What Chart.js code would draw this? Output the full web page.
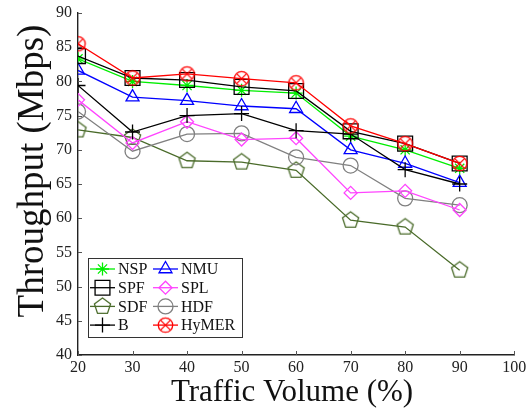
<!DOCTYPE html>
<html>
<head>
<meta charset="utf-8">
<script src="https://cdn.jsdelivr.net/npm/chart.js@4.4.1/dist/chart.umd.min.js"></script>
<style>
  html, body { margin: 0; padding: 0; background: #fff; }
  #c { display: block; }
</style>
</head>
<body>
<canvas id="c" width="526" height="417"></canvas>
<script>
// Throughput (Mbps) versus traffic volume (%) for each routing scheme
const trafficVolume = [20, 30, 40, 50, 60, 70, 80, 90];
const xTickValues = [20, 30, 40, 50, 60, 70, 80, 90, 100];
const yTickValues = [40, 45, 50, 55, 60, 65, 70, 75, 80, 85, 90];

const nspValues   = [83.3, 80.0, 79.4, 78.7, 78.3, 72.0, 70.0, 67.3];
const nmuValues   = [81.6, 77.7, 77.2, 76.4, 76.0, 70.0, 68.0, 65.2];
const spfValues   = [83.7, 80.5, 80.2, 79.2, 78.6, 72.7, 70.9, 68.0];
const splValues   = [77.3, 71.0, 74.1, 71.5, 71.7, 63.7, 64.0, 61.2];
const sdfValues   = [72.9, 71.8, 68.4, 68.2, 67.0, 59.7, 58.7, 52.4];
const hdfValues   = [75.6, 69.8, 72.3, 72.4, 68.9, 67.7, 62.9, 61.9];
const bValues     = [79.4, 72.6, 75.0, 75.3, 72.8, 72.3, 67.1, 65.0];
const hymerValues = [85.5, 80.5, 81.1, 80.4, 79.8, 73.5, 70.9, 68.0];

const SERIF = '"Liberation Serif", "DejaVu Serif", serif';

// Marker shapes Chart.js does not provide: open pentagon and circle with an X
function pentagonMarker(color, r, lw) {
  const s = Math.ceil(2 * r + 4);
  const cv = document.createElement('canvas');
  cv.width = s; cv.height = s;
  const g = cv.getContext('2d');
  g.strokeStyle = color; g.lineWidth = lw;
  g.beginPath();
  for (let k = 0; k < 5; k++) {
    const a = -Math.PI / 2 + k * 2 * Math.PI / 5;
    const px = s / 2 + r * Math.cos(a), py = s / 2 + r * Math.sin(a);
    k ? g.lineTo(px, py) : g.moveTo(px, py);
  }
  g.closePath();
  g.stroke();
  return cv;
}
function crossedCircleMarker(color, r, lw) {
  const s = Math.ceil(2 * r + 4);
  const cv = document.createElement('canvas');
  cv.width = s; cv.height = s;
  const g = cv.getContext('2d');
  g.strokeStyle = color; g.lineWidth = lw;
  const c = s / 2, d = r * Math.SQRT1_2;
  g.beginPath(); g.arc(c, c, r, 0, 2 * Math.PI); g.stroke();
  g.beginPath();
  g.moveTo(c - d, c - d); g.lineTo(c + d, c + d);
  g.moveTo(c + d, c - d); g.lineTo(c - d, c + d);
  g.stroke();
  return cv;
}

function series(label, values, color, style, radius, order) {
  return {
    label, order,
    data: trafficVolume.map((x, i) => ({ x, y: values[i] })),
    borderColor: color,
    borderWidth: 1.3,
    pointStyle: style,
    pointRadius: radius,
    pointBorderColor: color,
    pointBackgroundColor: 'rgba(0,0,0,0)',
    pointBorderWidth: 1.3,
    tension: 0,
    fill: false
  };
}

const datasets = [
  series('NSP',   nspValues,   '#00ee00', 'star',     6.5, 5),
  series('NMU',   nmuValues,   '#0000ff', 'triangle', 7.5, 4),
  series('SPF',   spfValues,   '#000000', 'rect',     10.5, 2),
  series('SPL',   splValues,   '#ff44ff', 'rectRot',  6.5, 6),
  series('SDF',   sdfValues,   '#4a6b2a', pentagonMarker('#4a6b2a', 8.5, 1.3), 8.5, 7),
  series('HDF',   hdfValues,   '#808080', 'circle',   7.5, 6),
  series('B',     bValues,     '#000000', 'cross',    7.5, 3),
  series('HyMER', hymerValues, '#ff0000', crossedCircleMarker('#ff0000', 7.2, 1.3), 7.2, 1)
];

// Short tick marks pointing into the plot area
const innerTicks = {
  id: 'innerTicks',
  afterDraw(chart) {
    const { ctx, chartArea: a, scales: { x, y } } = chart;
    ctx.save();
    ctx.strokeStyle = '#555';
    ctx.lineWidth = 1;
    ctx.beginPath();
    xTickValues.forEach(v => {
      const px = Math.round(x.getPixelForValue(v)) + 0.5;
      ctx.moveTo(px, a.bottom); ctx.lineTo(px, a.bottom - 4);
    });
    yTickValues.forEach(v => {
      const py = Math.round(y.getPixelForValue(v)) + 0.5;
      ctx.moveTo(a.left, py); ctx.lineTo(a.left + 4, py);
    });
    ctx.stroke();
    ctx.restore();
  }
};

// Axis titles
const axisTitles = {
  id: 'axisTitles',
  afterDraw(chart) {
    const ctx = chart.ctx;
    ctx.save();
    ctx.fillStyle = '#111';
    ctx.textAlign = 'center';
    ctx.textBaseline = 'middle';
    ctx.font = '31px ' + SERIF;
    ctx.fillText('Traffic Volume (%)', 292, 393);
    ctx.translate(33, 171);
    ctx.rotate(-Math.PI / 2);
    ctx.font = '37px ' + SERIF;
    ctx.fillText('Throughput (Mbps)', 0, 0);
    ctx.restore();
  }
};

// Boxed two-column legend in the lower-left corner of the plot
const boxLegend = {
  id: 'boxLegend',
  afterDraw(chart) {
    const ctx = chart.ctx;
    ctx.save();
    ctx.fillStyle = '#fff';
    ctx.fillRect(88.5, 258.5, 154, 79);
    ctx.strokeStyle = '#333';
    ctx.lineWidth = 1;
    ctx.strokeRect(88.5, 258.5, 154, 79);
    chart.data.datasets.forEach((ds, i) => {
      const col = i % 2, row = Math.floor(i / 2);
      const x0 = col ? 153 : 90;
      const cy = 269 + row * 18.7;
      ctx.strokeStyle = ds.borderColor;
      ctx.lineWidth = ds.borderWidth;
      ctx.beginPath(); ctx.moveTo(x0, cy); ctx.lineTo(x0 + 25, cy); ctx.stroke();
      ctx.fillStyle = 'rgba(0,0,0,0)';
      ctx.lineWidth = ds.pointBorderWidth;
      Chart.helpers.drawPoint(ctx, {
        pointStyle: ds.pointStyle, radius: ds.pointRadius,
        borderWidth: ds.pointBorderWidth, rotation: 0
      }, x0 + 12.5, cy);
      ctx.fillStyle = '#111';
      ctx.font = '16px ' + SERIF;
      ctx.textAlign = 'left';
      ctx.textBaseline = 'middle';
      ctx.fillText(ds.label, x0 + 28, cy + 1);
    });
    ctx.restore();
  }
};

new Chart(document.getElementById('c'), {
  type: 'line',
  data: { datasets },
  options: {
    responsive: false,
    animation: false,
    events: [],
    devicePixelRatio: 1,
    layout: { padding: { top: 13, right: 10, left: 0, bottom: 0 } },
    plugins: { legend: { display: false }, tooltip: { enabled: false } },
    scales: {
      x: {
        type: 'linear', min: 20, max: 100,
        afterBuildTicks(s) { s.ticks = xTickValues.map(v => ({ value: v })); },
        afterFit(s) { s.height = 62; s.paddingLeft = 0; s.paddingRight = 0; },
        ticks: { font: { family: SERIF, size: 16 }, color: '#222', padding: 3, maxRotation: 0, autoSkip: false },
        grid: { display: true, drawOnChartArea: false, drawTicks: false },
        border: { display: true, color: '#222', width: 1.4 }
      },
      y: {
        type: 'linear', min: 40, max: 90,
        afterBuildTicks(s) { s.ticks = yTickValues.map(v => ({ value: v })); },
        afterFit(s) { s.width = 78; s.paddingTop = 0; s.paddingBottom = 0; },
        ticks: { font: { family: SERIF, size: 16 }, color: '#222', padding: 6, autoSkip: false },
        grid: { display: true, drawOnChartArea: false, drawTicks: false },
        border: { display: true, color: '#222', width: 1.4 }
      }
    }
  },
  plugins: [innerTicks, axisTitles, boxLegend]
});
</script>
</body>
</html>
